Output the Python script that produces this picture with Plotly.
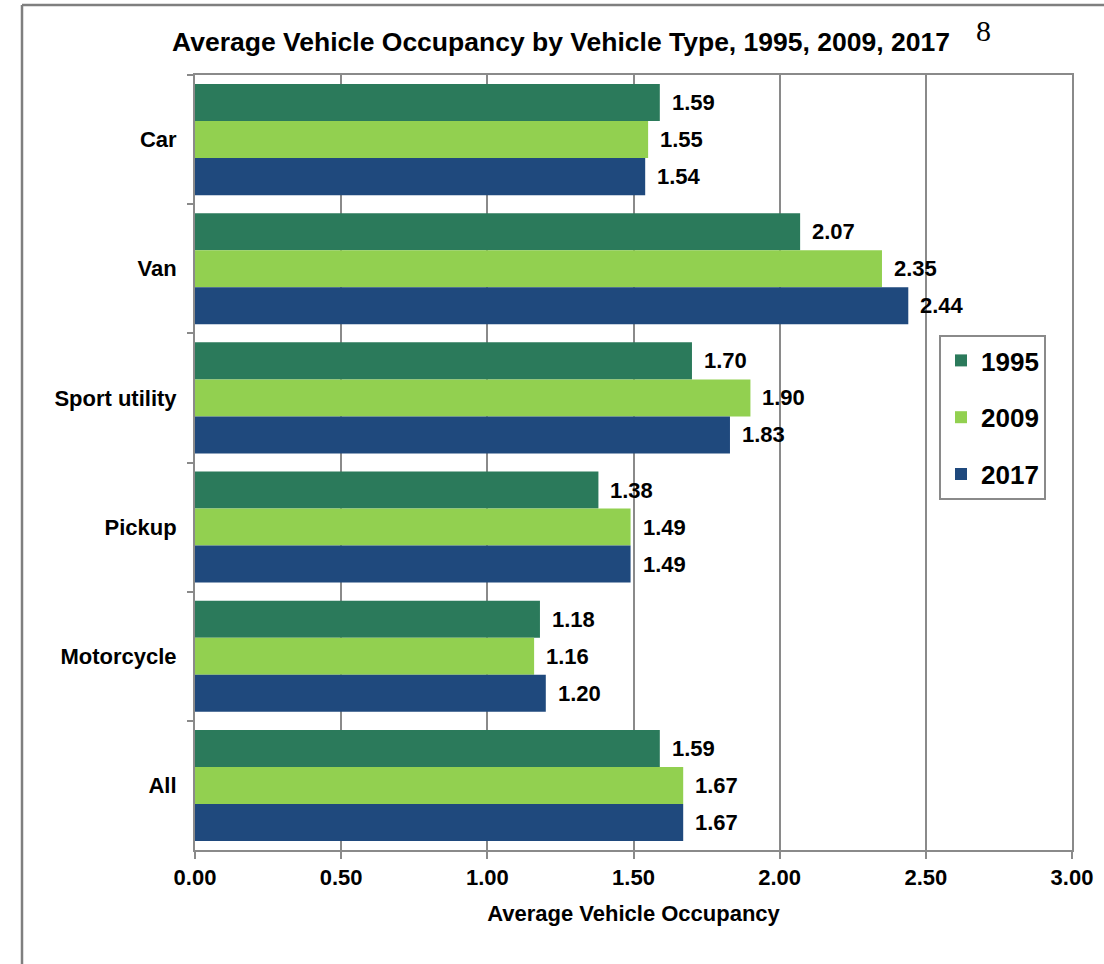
import plotly.graph_objects as go

# ---- data ----
categories = ["Car", "Van", "Sport utility", "Pickup", "Motorcycle", "All"]
years = ["1995", "2009", "2017"]
v1995 = [1.59, 2.07, 1.70, 1.38, 1.18, 1.59]
v2009 = [1.55, 2.35, 1.90, 1.49, 1.16, 1.67]
v2017 = [1.54, 2.44, 1.83, 1.49, 1.20, 1.67]
x_ticks = [0.0, 0.5, 1.0, 1.5, 2.0, 2.5, 3.0]

# ---- style / layout constants ----
W, H = 1104, 964
ML, MR, MT, MB = 195, 32, 75, 114
PW, PH = W - ML - MR, H - MT - MB
BARGAP = 0.14
colors = ["#2B7A5B", "#92D050", "#1F497D"]
FONT = "Liberation Sans Narrow, Arial Narrow, Liberation Sans, Arial, sans-serif"
GRAY = "#8a8a8a"

series = [v1995, v2009, v2017]

fig = go.Figure()
for i, (yr, vals) in enumerate(zip(years, series)):
    fig.add_trace(go.Bar(
        y=categories, x=vals, name=yr, orientation="h",
        marker=dict(color=colors[i], line=dict(width=0)),
        legendgroup=yr,
    ))

# data labels
band = PH / len(categories)
barpx = band * (1 - BARGAP) / 3
annotations = []
for i, vals in enumerate(series):
    for cat, v in zip(categories, vals):
        annotations.append(dict(
            x=v, y=cat, xref="x", yref="y", text=f"{v:.2f}",
            showarrow=False, xanchor="left", yanchor="middle",
            xshift=10, yshift=(1 - i) * barpx,
            font=dict(family=FONT, size=22, color="black", weight=700),
        ))

# page number (paper coords relative to plot area)
annotations.append(dict(
    x=(983 - ML) / PW, y=1 + (MT - 31) / PH, xref="paper", yref="paper",
    text="8", showarrow=False, xanchor="center", yanchor="middle",
    font=dict(family="Liberation Serif, Times New Roman, serif", size=30, color="black"),
))

fig.update_layout(
    width=W, height=H,
    margin=dict(l=ML, r=MR, t=MT, b=MB, pad=0),
    paper_bgcolor="white", plot_bgcolor="white",
    barmode="group", bargap=BARGAP, bargroupgap=0,
    title=dict(
        text="Average Vehicle Occupancy by Vehicle Type, 1995, 2009, 2017",
        x=561 / W, xref="container", xanchor="center",
        y=1 - 42 / H, yref="container", yanchor="middle",
        font=dict(family=FONT, size=26.5, color="black", weight=700),
    ),
    font=dict(family=FONT, color="black"),
    showlegend=True,
    legend=dict(
        x=(939 - ML) / PW, y=1 - (335 - MT) / PH, xanchor="left", yanchor="top",
        bordercolor=GRAY, borderwidth=2, bgcolor="white",
        font=dict(family=FONT, size=26, color="black", weight=700),
        tracegroupgap=20, traceorder="grouped",
        entrywidth=70, entrywidthmode="pixels",
    ),
    xaxis=dict(
        range=[0, 3], tickvals=x_ticks, tickformat=".2f",
        ticks="outside", ticklen=7, tickwidth=2, tickcolor=GRAY,
        showgrid=True, gridcolor=GRAY, gridwidth=1.5, zeroline=False,
        showline=True, linecolor=GRAY, linewidth=2, mirror=True,
        tickfont=dict(family=FONT, size=22, color="black", weight=700),
        title=dict(text="Average Vehicle Occupancy", standoff=16,
                   font=dict(family=FONT, size=22, color="black", weight=700)),
    ),
    yaxis=dict(
        type="category", autorange="reversed",
        ticks="outside", tickson="boundaries", ticklen=6, tickwidth=2, tickcolor=GRAY,
        showgrid=False, zeroline=False,
        showline=True, linecolor=GRAY, linewidth=2, mirror=True,
        ticklabelstandoff=12,
        tickfont=dict(family=FONT, size=22, color="black", weight=700),
    ),
    annotations=annotations,
    shapes=[
        dict(type="line", xref="paper", yref="paper",
             x0=(22 - ML) / PW, x1=(22 - ML) / PW,
             y0=1 + (MT - 5) / PH, y1=-(H - MT - PH + 5) / PH,
             line=dict(color="#7f7f7f", width=2.5)),
        dict(type="line", xref="paper", yref="paper",
             x0=(22 - ML) / PW, x1=(W + 5 - ML) / PW,
             y0=1 + (MT - 5) / PH, y1=1 + (MT - 5) / PH,
             line=dict(color="#7f7f7f", width=2.5)),
    ],
)

fig.write_html("out.html")
